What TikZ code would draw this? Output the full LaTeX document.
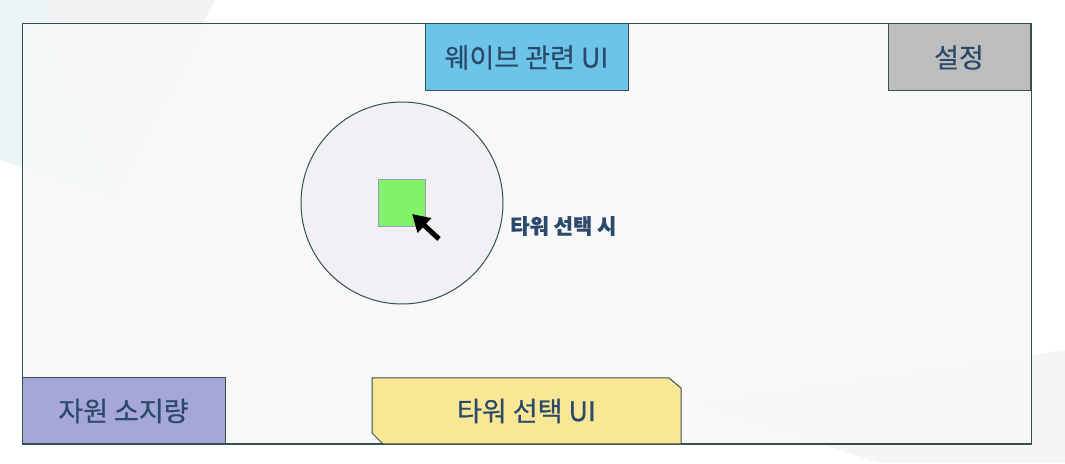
\documentclass[tikz,border=0pt]{standalone}
\usepackage{fontspec}
\newfontfamily\kr[FakeBold=0.6]{Noto Sans CJK KR}
\usetikzlibrary{arrows.meta}
\definecolor{edge}{HTML}{35504F}
\definecolor{ink}{HTML}{2B4A6B}
\definecolor{screenbg}{HTML}{F8F8F8}
\definecolor{waveblue}{HTML}{6CC4E9}
\definecolor{setgray}{HTML}{BDBDBD}
\definecolor{respurple}{HTML}{A6A6D8}
\definecolor{toweryel}{HTML}{F9E795}
\definecolor{towergreen}{HTML}{82F266}
\definecolor{rangefill}{HTML}{F0F0F5}

\begin{document}
\begin{tikzpicture}[x=1pt,y=1pt,
  panel/.style={draw=edge, line width=1pt, inner sep=0pt, text=ink, font=\kr\fontsize{27}{30}\selectfont},
  note/.style={text=ink, font=\kr\bfseries\fontsize{21}{24}\selectfont, inner sep=0pt, anchor=west},
  >={Triangle[length=17pt,width=19pt]}]

\useasboundingbox (0,0) rectangle (1065,463);
\fill[white] (0,0) rectangle (1065,463);
\fill[color=teal!8] (0,463) -- (45,463) -- (115,266) -- (0,303) -- cycle;
\fill[color=black!5] (45,463) -- (215,463) -- (115,266) -- cycle;
\fill[color=black!4] (700,58) -- (1065,113) -- (1065,0) -- (880,0) -- cycle;

\draw[edge, fill=screenbg, line width=1pt] (22,19) rectangle (1031,439);
\fill[color=teal!5, opacity=.5] (23,438) -- (45,438) -- (115,266) -- (23,295) -- cycle;
\fill[color=black!3, opacity=.6] (45,438) -- (205,438) -- (115,266) -- cycle;
\fill[color=black!3, opacity=.6] (700,58) -- (1030,106) -- (1030,20) -- (830,20) -- cycle;

\node[panel, fill=waveblue, minimum width=203pt, minimum height=67pt] (wave) at (526.5,405.5) {웨이브 관련 UI};
\node[panel, fill=setgray, minimum width=142pt, minimum height=67pt] (setting) at (959,405.5) {설정};
\node[panel, fill=respurple, minimum width=203pt, minimum height=66pt] (res) at (123.5,52) {자원 소지량};

\draw[edge, fill=toweryel, line width=1pt] (372,85) -- (669,85) -- (681,75) -- (681,19) -- (383,19) -- (372,30) -- cycle;
\node[panel, draw=none] (towerui) at (526.5,52) {타워 선택 UI};

\draw[edge, fill=rangefill, line width=1pt] (402,260) circle (101);
\node[draw=black!55!blue!40, fill=towergreen, line width=1pt, minimum size=47pt, inner sep=0pt] (tower) at (401.5,259.5) {};
\coordinate (tip) at (412,249);
\coordinate (ptr) at (439,224);
\draw[->, line width=5pt] (ptr) -- (tip);
\node[note] (sel) at (510,237) {타워 선택 시};
\end{tikzpicture}
\end{document}
